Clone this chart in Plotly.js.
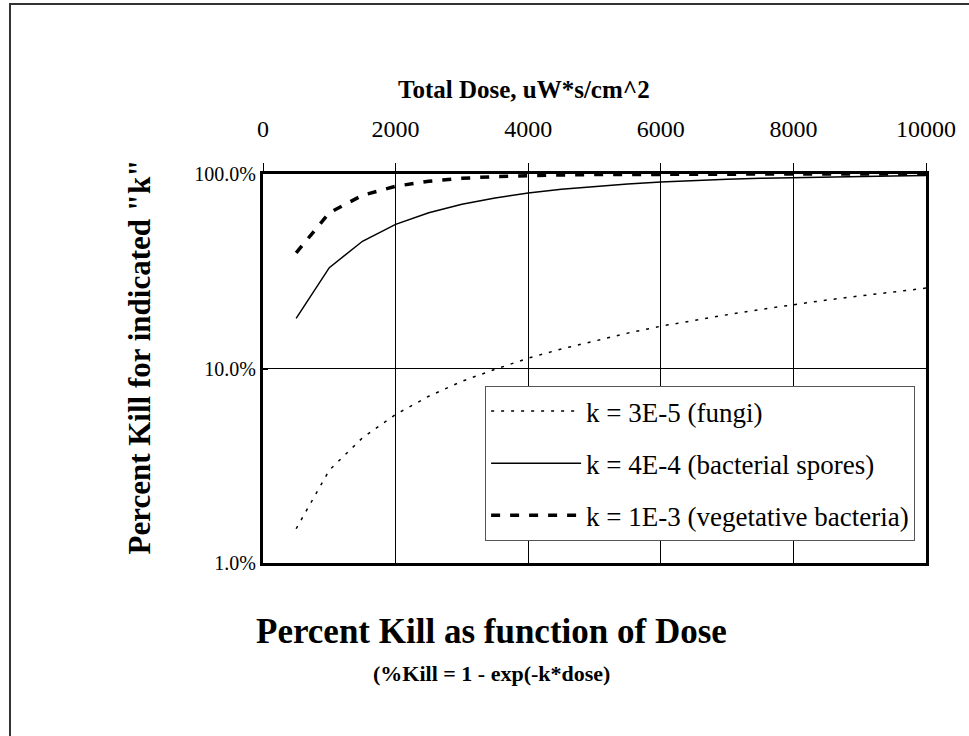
<!DOCTYPE html>
<html>
<head>
<meta charset="utf-8">
<script src="https://cdn.plot.ly/plotly-3.0.1.min.js"></script>
<style>
html,body{margin:0;padding:0;background:#fff;}
#chart{width:969px;height:736px;}
</style>
</head>
<body>
<div id="chart"></div>
<script>
// Data
var dose = [500, 1000, 1500, 2000, 2500, 3000, 3500, 4000, 4500, 5000,
            5500, 6000, 6500, 7000, 7500, 8000, 8500, 9000, 9500, 10000];
var killFungi = [0.015, 0.030, 0.044, 0.058, 0.072, 0.086, 0.099, 0.113, 0.126, 0.139,
                 0.152, 0.165, 0.177, 0.189, 0.201, 0.213, 0.225, 0.236, 0.248, 0.259];
var killSpores = [0.181, 0.330, 0.451, 0.551, 0.632, 0.699, 0.753, 0.798, 0.835, 0.865,
                  0.889, 0.909, 0.926, 0.939, 0.950, 0.959, 0.967, 0.973, 0.978, 0.982];
var killVegetative = [0.393, 0.632, 0.777, 0.865, 0.918, 0.950, 0.970, 0.982, 0.989, 0.993,
                      0.996, 0.998, 0.998, 0.999, 0.999, 1.0, 1.0, 1.0, 1.0, 1.0];
var seriesNames = ["k = 3E-5 (fungi)", "k = 4E-4 (bacterial spores)", "k = 1E-3 (vegetative bacteria)"];
var xTickVals = [0, 2000, 4000, 6000, 8000, 10000];
var xTickText = ["0", "2000", "4000", "6000", "8000", "10000"];
var yTickVals = [0.01, 0.1, 1];
var yTickText = ["1.0%", "10.0%", "100.0%"];

var serif = "Liberation Serif, Times New Roman, serif";

var traces = [
  {x: dose, y: killFungi, name: seriesNames[0], mode: "lines", legendgroup: "a",
   line: {color: "#000", width: 1.5, dash: "3px,7px"}},
  {x: dose, y: killSpores, name: seriesNames[1], mode: "lines", legendgroup: "b",
   line: {color: "#000", width: 1.5}},
  {x: dose, y: killVegetative, name: seriesNames[2], mode: "lines", legendgroup: "c",
   line: {color: "#000", width: 3.5, dash: "9px,10px"}}
];

var layout = {
  width: 969, height: 736,
  paper_bgcolor: "#fff", plot_bgcolor: "#fff",
  margin: {l: 263, r: 43, t: 174, b: 173},
  showlegend: true,
  font: {family: serif, color: "#000"},
  xaxis: {
    side: "top", range: [0, 10000], tickvals: xTickVals, ticktext: xTickText,
    showgrid: true, gridcolor: "#000", gridwidth: 1,
    showline: true, linecolor: "#000", linewidth: 3, mirror: true,
    ticks: "outside", ticklen: 8, tickwidth: 1, tickcolor: "#000",
    tickfont: {family: serif, size: 24, color: "#000"},
    ticklabelstandoff: 16,
    zeroline: false
  },
  yaxis: {
    type: "log", range: [-2, 0], tickvals: yTickVals, ticktext: yTickText,
    showgrid: true, gridcolor: "#000", gridwidth: 1,
    showline: true, linecolor: "#000", linewidth: 3, mirror: true,
    ticks: "inside", ticklen: 5, tickwidth: 2, tickcolor: "#000",
    tickfont: {family: serif, size: 20, color: "#000"},
    zeroline: false
  },
  legend: {
    x: 0.335, y: 0.455, xanchor: "left", yanchor: "top",
    bgcolor: "#fff", bordercolor: "#555", borderwidth: 1,
    font: {family: serif, size: 27, color: "#000"},
    traceorder: "grouped", tracegroupgap: 14, itemwidth: 90
  },
  shapes: [
    {type: "rect", xref: "paper", yref: "paper", x0: -0.3816, x1: 1.08, y0: -0.46, y1: 1.437,
     line: {color: "#333", width: 2}, fillcolor: "rgba(0,0,0,0)", layer: "below"}
  ],
  annotations: [
    {text: "Total Dose, uW*s/cm^2", xref: "paper", yref: "paper", x: 0.394, y: 1.218,
     xanchor: "center", yanchor: "middle", showarrow: false,
     font: {family: serif, size: 25, weight: "bold", color: "#000"}},
    {text: "Percent Kill for indicated \"k\"", xref: "paper", yref: "paper", x: -0.186, y: 0.53,
     xanchor: "center", yanchor: "middle", showarrow: false, textangle: -90,
     font: {family: serif, size: 31, weight: "bold", color: "#000"}},
    {text: "Percent Kill as function of Dose", xref: "paper", yref: "paper", x: 0.345, y: -0.177,
     xanchor: "center", yanchor: "middle", showarrow: false,
     font: {family: serif, size: 35, weight: "bold", color: "#000"}},
    {text: "(%Kill = 1 - exp(-k*dose)", xref: "paper", yref: "paper", x: 0.345, y: -0.283,
     xanchor: "center", yanchor: "middle", showarrow: false,
     font: {family: serif, size: 22, weight: "bold", color: "#000"}}
  ]
};

Plotly.newPlot("chart", traces, layout, {displayModeBar: false, staticPlot: true});
</script>
</body>
</html>
